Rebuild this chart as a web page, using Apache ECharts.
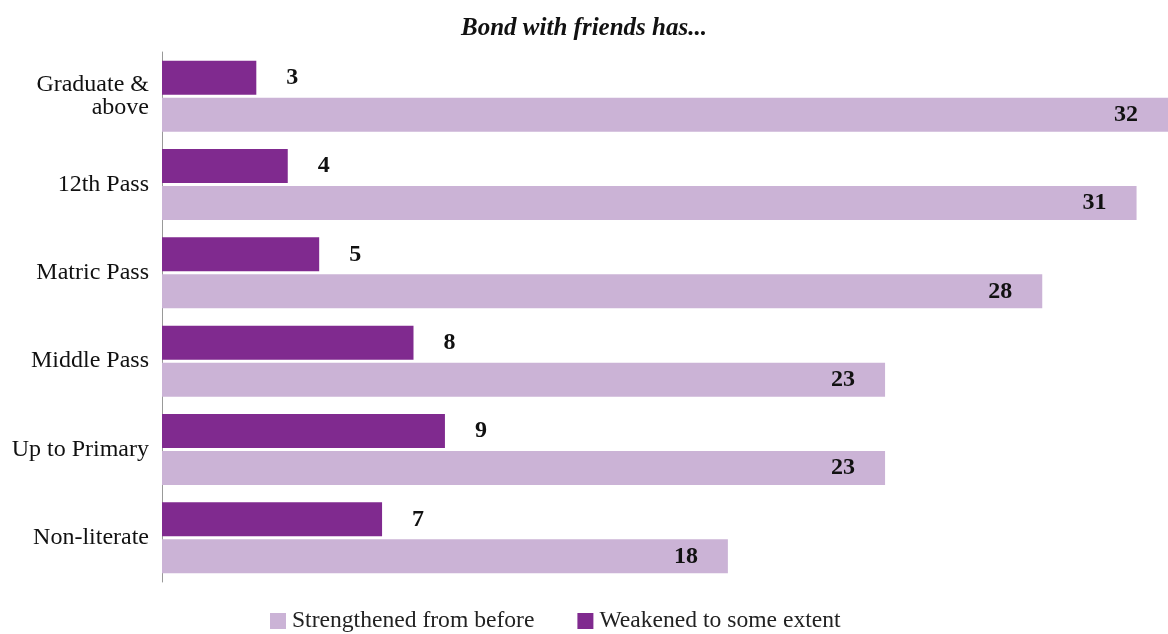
<!DOCTYPE html>
<html>
<head>
<meta charset="utf-8">
<script src="https://cdn.jsdelivr.net/npm/echarts@6/dist/echarts.min.js"></script>
<style>
  html, body { margin: 0; padding: 0; background: #fff; }
  #chart { width: 1168px; height: 634px; }
</style>
</head>
<body>
<div id="chart"></div>
<script>
var categories = ['Graduate &\nabove', '12th Pass', 'Matric Pass', 'Middle Pass', 'Up to Primary', 'Non-literate'];
var weakened = [3, 4, 5, 8, 9, 7];
var strengthened = [32, 31, 28, 23, 23, 18];

var font = '"Liberation Serif", "DejaVu Serif", serif';
var chart = echarts.init(document.getElementById('chart'));

option = {
    animation: false,
    title: {
        text: 'Bond with friends has...',
        left: 'center',
        top: 11,
        textStyle: {
            fontFamily: font,
            fontSize: 25,
            fontStyle: 'italic',
            fontWeight: 'bold',
            color: '#111'
        }
    },
    legend: {
        left: 270,
        top: 609,
        padding: 0,
        itemWidth: 16,
        itemHeight: 16,
        itemGap: 43,
        icon: 'rect',
        data: ['Strengthened from before', 'Weakened to some extent'],
        textStyle: { fontFamily: font, fontSize: 23.6, color: '#222', padding: [0, 0, 0, 1] }
    },
    grid: {
        left: 162,
        right: 0,
        top: 52,
        bottom: 52
    },
    xAxis: {
        type: 'value',
        min: 0,
        max: 32,
        show: false
    },
    yAxis: {
        type: 'category',
        inverse: true,
        data: categories,
        axisLine: { show: true, lineStyle: { color: '#999', width: 1 } },
        axisTick: { show: false },
        axisLabel: {
            margin: 13,
            fontFamily: font,
            fontSize: 24,
            lineHeight: 23,
            color: '#111',
            align: 'right'
        }
    },
    series: [
        {
            name: 'Weakened to some extent',
            type: 'bar',
            barWidth: 34,
            barGap: '9%',
            itemStyle: { color: '#802A8F' },
            label: {
                show: true,
                position: 'right',
                distance: 30,
                fontFamily: font,
                fontSize: 24,
                fontWeight: 'bold',
                color: '#111'
            },
            data: weakened
        },
        {
            name: 'Strengthened from before',
            type: 'bar',
            barWidth: 34,
            barGap: '9%',
            itemStyle: { color: '#CBB3D6' },
            label: {
                show: true,
                position: 'insideRight',
                distance: 30,
                fontFamily: font,
                fontSize: 24,
                fontWeight: 'bold',
                color: '#111'
            },
            data: strengthened
        }
    ]
};

chart.setOption(option);
</script>
</body>
</html>
